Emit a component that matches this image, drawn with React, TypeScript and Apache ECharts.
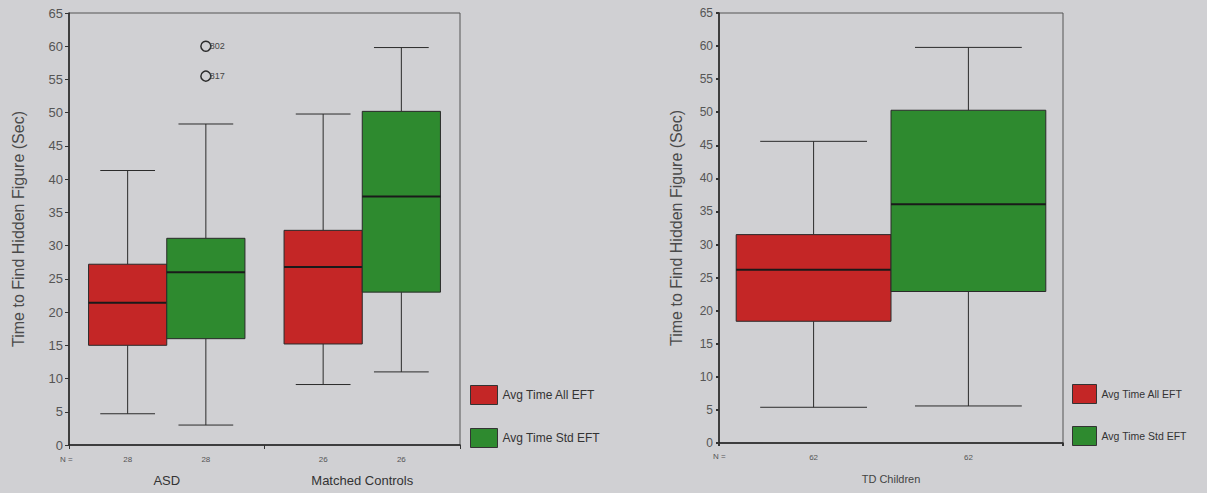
import React, { useEffect, useRef } from 'react';
import * as echarts from 'echarts';

// ---------- data ----------
const leftCategories = ['ASD', 'Matched Controls'];
const rightCategories = ['TD Children'];
const seriesNames = ['Avg Time All EFT', 'Avg Time Std EFT'];
// [min, Q1, median, Q3, max]
const leftAllEft = [
  [4.7, 15.0, 21.4, 27.2, 41.3],
  [9.1, 15.2, 26.8, 32.3, 49.8],
];
const leftStdEft = [
  [3.0, 16.0, 26.0, 31.1, 48.3],
  [11.0, 23.0, 37.4, 50.2, 59.8],
];
const rightAllEft = [[5.4, 18.4, 26.2, 31.5, 45.6]];
const rightStdEft = [[5.6, 22.9, 36.1, 50.3, 59.8]];
const leftN = [
  [28, 28],
  [26, 26],
];
const rightN = [[62, 62]];
const outlierValues = [60.0, 55.5];
const outlierLabels = ['802', '817'];
const outlierCategory = 0;
const yMin = 0;
const yMax = 65;
const yInterval = 5;
const yTitle = 'Time to Find Hidden Figure (Sec)';

const RED = '#c42626';
const GREEN = '#2e8a2f';
const BG = '#d0d0d3';

function boxRender(side: number, boxFrac: number, capFrac: number, color: string) {
  return (params: any, api: any) => {
    const cat = api.value(0);
    const band = api.size([1, 0])[0];
    const center = api.coord([cat, 0])[0];
    const w = band * boxFrac;
    const cx = center + (side * w) / 2;
    const y = (v: number) => api.coord([cat, v])[1];
    const ymin = y(api.value(1));
    const yq1 = y(api.value(2));
    const ymed = y(api.value(3));
    const yq3 = y(api.value(4));
    const ymax = y(api.value(5));
    const cap = w * capFrac;
    const ls = { stroke: '#2b2b2b', lineWidth: 1 };
    return {
      type: 'group',
      children: [
        { type: 'line', shape: { x1: cx, y1: ymax, x2: cx, y2: yq3 }, style: ls },
        { type: 'line', shape: { x1: cx, y1: yq1, x2: cx, y2: ymin }, style: ls },
        { type: 'line', shape: { x1: cx - cap / 2, y1: ymax, x2: cx + cap / 2, y2: ymax }, style: ls },
        { type: 'line', shape: { x1: cx - cap / 2, y1: ymin, x2: cx + cap / 2, y2: ymin }, style: ls },
        {
          type: 'rect',
          shape: { x: cx - w / 2, y: yq3, width: w, height: yq1 - yq3 },
          style: { fill: color, stroke: '#2a2a2a', lineWidth: 1 },
        },
        {
          type: 'line',
          shape: { x1: cx - w / 2, y1: ymed, x2: cx + w / 2, y2: ymed },
          style: { stroke: '#1a1a1a', lineWidth: 2 },
        },
      ],
    };
  };
}

function nRender(boxFrac: number, fontSize: number) {
  return (params: any, api: any) => {
    const cat = api.value(0);
    const band = api.size([1, 0])[0];
    const p = api.coord([cat, 0]);
    const w = band * boxFrac;
    const mk = (txt: string, x: number) => ({
      type: 'text',
      style: {
        text: txt,
        x,
        y: p[1] + 14,
        fill: '#555',
        fontSize,
        fontFamily: 'Liberation Sans, Arial, sans-serif',
        align: 'center',
        verticalAlign: 'middle',
        textAlign: 'center',
        textVerticalAlign: 'middle',
      },
    });
    return {
      type: 'group',
      children: [mk(String(api.value(1)), p[0] - w / 2), mk(String(api.value(2)), p[0] + w / 2)],
    };
  };
}

function outlierRender(boxFrac: number) {
  return (params: any, api: any) => {
    const cat = api.value(0);
    const band = api.size([1, 0])[0];
    const p = api.coord([cat, api.value(1)]);
    const cx = p[0] + (band * boxFrac) / 2;
    return {
      type: 'group',
      children: [
        {
          type: 'circle',
          shape: { cx, cy: p[1], r: 5 },
          style: { fill: 'none', stroke: '#2b2b2b', lineWidth: 1.5 },
        },
        {
          type: 'text',
          style: {
            text: outlierLabels[params.dataIndex],
            x: cx + 4,
            y: p[1],
            fill: '#444',
            fontSize: 9,
            fontFamily: 'Liberation Sans, Arial, sans-serif',
            align: 'left',
            verticalAlign: 'middle',
            textAlign: 'left',
            textVerticalAlign: 'middle',
          },
        },
      ],
    };
  };
}

export default function App() {
  const ref = useRef<HTMLDivElement>(null);
  useEffect(() => {
    if (!ref.current) return;
    const chart = echarts.init(ref.current, null, { renderer: 'svg' });
    const font = 'Liberation Sans, Arial, sans-serif';
    const yAxisBase = (gridIndex: number, labelSize: number, nameGap: number, tickLen: number, tickW: number) => ({
      type: 'value',
      gridIndex,
      min: yMin,
      max: yMax,
      interval: yInterval,
      name: yTitle,
      nameLocation: 'middle',
      nameGap,
      nameTextStyle: { fontSize: 16, color: '#4a4a4a', fontFamily: font },
      axisLine: { show: true, lineStyle: { color: '#222', width: 1.5 } },
      axisTick: { show: true, length: tickLen, lineStyle: { color: '#333', width: tickW } },
      axisLabel: { fontSize: labelSize, color: '#555', fontFamily: font, margin: 6 },
      splitLine: { show: false },
    });
    const leftBoxFrac = 0.4;
    const rightBoxFrac = 0.45;
    chart.setOption({
      animation: false,
      backgroundColor: BG,
      grid: [
        { left: 69, top: 13, width: 391, height: 432, show: true, borderColor: '#555', borderWidth: 1, backgroundColor: 'transparent' },
        { left: 719, top: 13, width: 344, height: 430, show: true, borderColor: '#555', borderWidth: 1, backgroundColor: 'transparent' },
      ],
      xAxis: [
        {
          type: 'category',
          gridIndex: 0,
          data: leftCategories,
          axisLine: { lineStyle: { color: '#222', width: 1.5 } },
          axisTick: { show: true, length: 4, lineStyle: { color: '#333' } },
          axisLabel: { fontSize: 13, color: '#333', margin: 29, fontFamily: font },
        },
        {
          type: 'category',
          gridIndex: 1,
          data: rightCategories,
          axisLine: { lineStyle: { color: '#222', width: 1.5 } },
          axisTick: { show: true, length: 3, lineStyle: { color: '#333', width: 2 } },
          axisLabel: { fontSize: 11, color: '#444', margin: 30, fontFamily: font },
        },
      ],
      yAxis: [yAxisBase(0, 13, 43, 4, 1), yAxisBase(1, 12, 35, 3, 2)],
      legend: [
        {
          left: 470,
          top: 385,
          padding: 0,
          orient: 'vertical',
          itemWidth: 27,
          itemHeight: 19,
          itemGap: 23,
          icon: 'rect',
          data: seriesNames,
          itemStyle: { borderColor: '#333', borderWidth: 1 },
          textStyle: { fontSize: 12, color: '#333', fontFamily: font },
        },
        {
          left: 1072,
          top: 384,
          padding: 0,
          orient: 'vertical',
          itemWidth: 24,
          itemHeight: 19,
          itemGap: 22,
          icon: 'rect',
          data: seriesNames,
          itemStyle: { borderColor: '#333', borderWidth: 1 },
          textStyle: { fontSize: 10.5, color: '#333', fontFamily: font },
        },
      ],
      graphic: [
        { type: 'text', left: 60, top: 455, style: { text: 'N =', fontSize: 8, fill: '#555', fontFamily: font } },
        { type: 'text', left: 713, top: 452, style: { text: 'N =', fontSize: 8, fill: '#555', fontFamily: font } },
      ],
      series: [
        {
          type: 'custom',
          name: seriesNames[0],
          xAxisIndex: 0,
          yAxisIndex: 0,
          itemStyle: { color: RED },
          renderItem: boxRender(-1, leftBoxFrac, 0.7, RED),
          encode: { x: 0, y: [1, 2, 3, 4, 5] },
          data: leftAllEft.map((v, i) => [i, ...v]),
        },
        {
          type: 'custom',
          name: seriesNames[1],
          xAxisIndex: 0,
          yAxisIndex: 0,
          itemStyle: { color: GREEN },
          renderItem: boxRender(1, leftBoxFrac, 0.7, GREEN),
          encode: { x: 0, y: [1, 2, 3, 4, 5] },
          data: leftStdEft.map((v, i) => [i, ...v]),
        },
        {
          type: 'custom',
          name: seriesNames[0],
          xAxisIndex: 1,
          yAxisIndex: 1,
          itemStyle: { color: RED },
          renderItem: boxRender(-1, rightBoxFrac, 0.69, RED),
          encode: { x: 0, y: [1, 2, 3, 4, 5] },
          data: rightAllEft.map((v, i) => [i, ...v]),
        },
        {
          type: 'custom',
          name: seriesNames[1],
          xAxisIndex: 1,
          yAxisIndex: 1,
          itemStyle: { color: GREEN },
          renderItem: boxRender(1, rightBoxFrac, 0.69, GREEN),
          encode: { x: 0, y: [1, 2, 3, 4, 5] },
          data: rightStdEft.map((v, i) => [i, ...v]),
        },
        {
          type: 'custom',
          name: 'outliers',
          xAxisIndex: 0,
          yAxisIndex: 0,
          renderItem: outlierRender(leftBoxFrac),
          encode: { x: 0, y: 1 },
          data: outlierValues.map((v) => [outlierCategory, v]),
        },
        {
          type: 'custom',
          name: 'nLeft',
          xAxisIndex: 0,
          yAxisIndex: 0,
          silent: true,
          clip: false,
          renderItem: nRender(leftBoxFrac, 8),
          encode: { x: 0 },
          data: leftN.map((v, i) => [i, ...v]),
        },
        {
          type: 'custom',
          name: 'nRight',
          xAxisIndex: 1,
          yAxisIndex: 1,
          silent: true,
          clip: false,
          renderItem: nRender(rightBoxFrac, 8),
          encode: { x: 0 },
          data: rightN.map((v, i) => [i, ...v]),
        },
      ],
    });
    return () => chart.dispose();
  }, []);
  return (
    <div
      ref={ref}
      style={{ position: 'fixed', left: 0, top: 0, width: 1207, height: 493, background: BG }}
    />
  );
}
